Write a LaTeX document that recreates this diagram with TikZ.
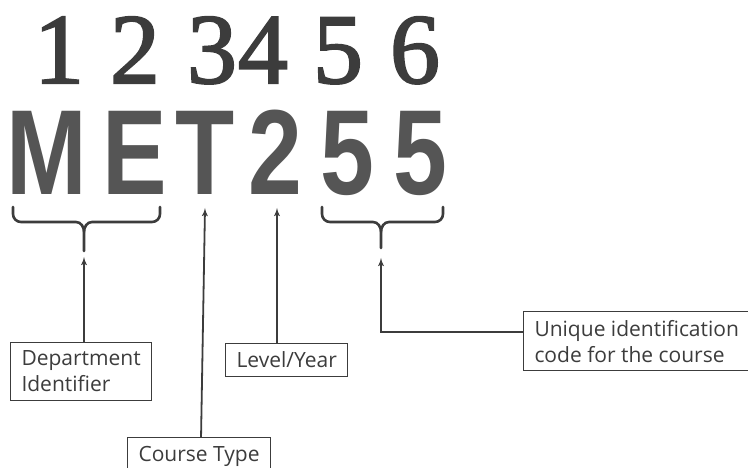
\documentclass[tikz,border=0pt]{standalone}
\usepackage{fontspec}
\usepackage{graphicx}
\usetikzlibrary{arrows, positioning}
\newfontfamily\labelfont{Open Sans}
\newfontfamily\codefont{Liberation Sans}
\newfontfamily\digitfont[FakeBold=2]{Liberation Serif}
\definecolor{ink}{RGB}{60,60,60}
\definecolor{codegray}{RGB}{85,85,85}
\newcommand{\codechar}[1]{\scalebox{0.8}[1]{#1}}

\begin{document}
\begin{tikzpicture}[x=1pt, y=-1pt]
		\tikzstyle{digit} = [anchor=base, inner sep=0, text=ink, font=\digitfont\fontsize{100}{100}\selectfont]
		\tikzstyle{letter} = [anchor=base, inner sep=0, text=codegray, font=\codefont\bfseries\fontsize{121}{121}\selectfont]
		\tikzstyle{infobox} = [draw=ink, line width=1pt, text=ink, align=left, anchor=north west, inner xsep=11pt, inner ysep=8.5pt, font=\labelfont\fontsize{21}{26}\selectfont]
		\tikzstyle{line} = [draw=ink, line width=1.8pt, -latex']
		\tikzstyle{brace} = [draw=ink, line width=2.6pt, line cap=round]
		
		\useasboundingbox (0,0) rectangle (748,468);
		
		% position numbers
		\node [digit] (d1) at (59,83) {1};
		\node [digit] (d2) at (135,83) {2};
		\node [digit] (d3) at (212,83) {3};
		\node [digit] (d4) at (263,83) {4};
		\node [digit] (d5) at (338,83) {5};
		\node [digit] (d6) at (415,83) {6};
		
		% course code
		\node [letter] (m) at (47,195) {\codechar{M}};
		\node [letter] (e) at (135,195) {\codechar{E}};
		\node [letter] (t) at (205,195) {\codechar{T}};
		\node [letter] (two) at (275,195) {\codechar{2}};
		\node [letter] (fivea) at (347,195) {\codechar{5}};
		\node [letter] (fiveb) at (420,195) {\codechar{5}};
		
		% braces
		\draw [brace] (13,207) -- (13,214) to[out=-90,in=180] (21,222) -- (76,222) to[out=0,in=90] (84,232) -- (84,251);
		\draw [brace] (160,207) -- (160,214) to[out=-90,in=0] (152,222) -- (92,222) to[out=180,in=90] (84,232);
		\draw [brace] (322,207) -- (322,214) to[out=-90,in=180] (330,222) -- (373,222) to[out=0,in=90] (381,232) -- (381,248);
		\draw [brace] (443,207) -- (443,214) to[out=-90,in=0] (435,222) -- (389,222) to[out=180,in=90] (381,232);
		
		\coordinate (depttip) at (84,257);
		\coordinate (typetip) at (205,208);
		\coordinate (leveltip) at (277,208);
		\coordinate (uniqtip) at (381,258);
		
		% labels
		\node [infobox] (dept) at (10,342) {Department\\Identifier};
		\node [infobox] (level) at (225,343) {Level/Year};
		\node [infobox] (ctype) at (127,437) {Course Type};
		\node [infobox] (uniq) at (523,311) {Unique identification\\code for the course};
		
		\path [line] ([xshift=2pt]ctype.north) -- (typetip);
		\path [line] (dept.north -| depttip) -- (depttip);
		\path [line] (level.north -| leveltip) -- (leveltip);
		\path [line] ([yshift=9pt]uniq.west) -| (uniqtip);
	\end{tikzpicture}
\end{document}
